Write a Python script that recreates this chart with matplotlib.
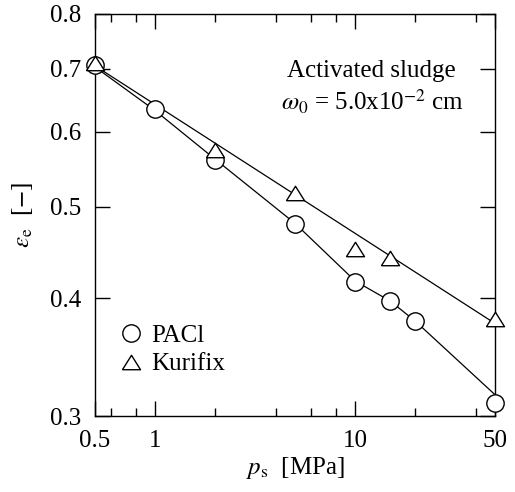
import matplotlib
matplotlib.use("Agg")
import matplotlib.pyplot as plt
from matplotlib.ticker import FixedLocator, NullFormatter, NullLocator
from matplotlib.lines import Line2D

plt.rcParams['font.family'] = ['Liberation Serif', 'DejaVu Serif']
plt.rcParams['mathtext.fontset'] = 'stix'

# Data
pacl_p = [0.5, 1, 2, 5, 10, 15, 20, 50]
pacl_e = [0.706, 0.634, 0.560, 0.479, 0.416, 0.397, 0.378, 0.310]
pacl_line_p = [0.5, 1, 2, 5, 10, 15, 20, 50]
pacl_line_e = [0.703, 0.632, 0.561, 0.480, 0.417, 0.397, 0.378, 0.316]

kuri_p = [0.5, 2, 5, 10, 15, 50]
kuri_e = [0.709, 0.574, 0.517, 0.451, 0.441, 0.380]
kuri_line_p = [0.5, 50]
kuri_line_e = [0.705, 0.376]

x_ticks = [0.5, 1, 10, 50]
x_tick_labels = ['0.5', '1', '10', '50']
x_minor = [0.6, 0.8, 2, 4, 6, 8, 20, 40]
y_ticks = [0.3, 0.4, 0.5, 0.6, 0.7, 0.8]
y_tick_labels = ['0.3', '0.4', '0.5', '0.6', '0.7', '0.8']

FS = 18

fig = plt.figure(figsize=(5.15, 4.92), dpi=100)
ax = fig.add_axes([95/515, 1-416/492, 400/515, 402/492])
ax.set_xscale('log')
ax.set_yscale('log')
ax.set_xlim(0.5, 50)
ax.set_ylim(0.3, 0.8)

tri = [(-1, -0.8), (1, -0.8), (0, 0.8), (-1, -0.8)]

ax.plot(pacl_line_p, pacl_line_e, color='black', lw=0.9, zorder=2)
ax.plot(kuri_line_p, kuri_line_e, color='black', lw=0.9, zorder=2)
ax.plot(pacl_p, pacl_e, ls='none', marker='o', ms=12.5, mfc='white', mec='black', mew=1.0, zorder=3, clip_on=False)
ax.plot(kuri_p, kuri_e, ls='none', marker=tri, ms=13, mfc='white', mec='black', mew=1.0, zorder=4, clip_on=False)

ax.xaxis.set_major_locator(FixedLocator(x_ticks))
ax.set_xticklabels(x_tick_labels)
ax.xaxis.set_minor_locator(FixedLocator(x_minor))
ax.xaxis.set_minor_formatter(NullFormatter())
ax.yaxis.set_major_locator(FixedLocator(y_ticks))
ax.set_yticklabels(y_tick_labels)
ax.yaxis.set_minor_locator(NullLocator())

ax.tick_params(which='major', direction='in', length=11, width=1.0, top=True, right=True,
               labelsize=FS)
ax.tick_params(axis='x', which='major', pad=10)
ax.tick_params(axis='y', which='major', pad=10)
ax.tick_params(which='minor', direction='in', length=6, width=1.0, top=True, right=True)
for s in ax.spines.values():
    s.set_linewidth(1.0)

ax.set_xlabel(r'$p_{\rm s}$  [MPa]', fontsize=FS, labelpad=2)
ax.set_ylabel(r'$\varepsilon_{\rm e}$  [$-$]', fontsize=FS, labelpad=11)

ax.text(0.69, 0.858, 'Activated sludge', transform=ax.transAxes, fontsize=FS, ha='center', va='center')
ax.text(0.695, 0.782, r'$\omega_0$ = 5.0x10$^{-2}$ cm', transform=ax.transAxes, fontsize=FS, ha='center', va='center')

handles = [
    Line2D([], [], ls='none', marker='o', ms=12.5, mfc='white', mec='black', mew=1.0),
    Line2D([], [], ls='none', marker=tri, ms=13, mfc='white', mec='black', mew=1.0),
]
ax.legend(handles, ['PACl', 'Kurifix'], loc='center left', bbox_to_anchor=(0.066, 0.165),
          frameon=False, fontsize=FS, handlelength=0.8, handletextpad=0.4, labelspacing=0.25,
          borderaxespad=0, borderpad=0)

fig.savefig('out.png', dpi=100)
